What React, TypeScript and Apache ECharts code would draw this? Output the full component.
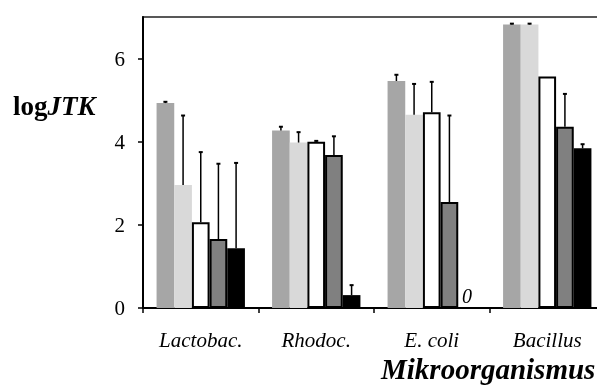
import React, { useEffect, useRef } from "react";
import * as echarts from "echarts";

const categories = ["Lactobac.", "Rhodoc.", "E. coli", "Bacillus"];
const yTicks = [0, 2, 4, 6];

const s1 = [4.93, 4.27, 5.46, 6.82];
const e1 = [0.03, 0.09, 0.15, 0.02];
const s2 = [2.96, 3.98, 4.65, 6.82];
const e2 = [1.67, 0.25, 0.74, 0.02];
const s3 = [2.06, 4.0, 4.71, 5.57];
const e3 = [1.69, 0.02, 0.73, 0];
const s4 = [1.66, 3.68, 2.55, 4.36];
const e4 = [1.81, 0.45, 2.08, 0.79];
const s5 = [1.44, 0.31, 0, 3.84];
const e5 = [2.05, 0.24, 0, 0.1];

const SERIF = "'Liberation Serif', 'Times New Roman', serif";
const GAP = 0.235;

export default function App() {
  const ref = useRef<HTMLDivElement>(null);
  useEffect(() => {
    if (!ref.current) return;
    const chart = echarts.init(ref.current, null, { renderer: "svg" });
    const values = [s1, s2, s3, s4, s5];
    const errs = [e1, e2, e3, e4, e5];
    const styles = [
      { color: "#a6a6a6" },
      { color: "#d9d9d9" },
      { color: "#ffffff", borderColor: "#000", borderWidth: 2 },
      { color: "#808080", borderColor: "#000", borderWidth: 2 },
      { color: "#000000" },
    ];
    const barSeries = values.map((vals, k) => ({
      type: "bar",
      barGap: "0%",
      barCategoryGap: GAP * 100 + "%",
      itemStyle: styles[k],
      data: vals.map((v) =>
        k === 4 && v === 0
          ? {
              value: v,
              label: {
                show: true,
                position: "top",
                formatter: "0",
                fontFamily: SERIF,
                fontStyle: "italic",
                fontSize: 20,
                color: "#000",
                distance: 2,
              },
            }
          : v
      ),
    }));
    const errSeries = values.map((vals, k) => ({
      type: "custom",
      z: 5,
      renderItem: (params: any, api: any) => {
        const ci = api.value(0);
        const v = api.value(1);
        const e = api.value(2);
        if (!(e > 0)) return null;
        const base = api.coord([ci, v]);
        const top = api.coord([ci, v + e]);
        const bandW = api.size([1, 0])[0];
        const barW = (bandW * (1 - GAP)) / 5;
        const x = base[0] + (k - 2) * barW;
        return {
          type: "group",
          children: [
            {
              type: "line",
              shape: { x1: x, y1: base[1], x2: x, y2: top[1] },
              style: { stroke: "#000", lineWidth: 1.5 },
            },
            {
              type: "line",
              shape: { x1: x - 2, y1: top[1], x2: x + 2, y2: top[1] },
              style: { stroke: "#000", lineWidth: 2 },
            },
          ],
        };
      },
      encode: { x: 0, y: 1 },
      data: vals.map((v, i) => [i, v, errs[k][i]]),
    }));

    chart.setOption({
      animation: false,
      grid: {
        left: 143,
        top: 17,
        right: 0,
        bottom: 80,
        show: true,
        borderColor: "#222",
        borderWidth: 1.5,
      },
      xAxis: {
        type: "category",
        data: categories,
        axisLine: { lineStyle: { color: "#000", width: 2 } },
        axisTick: { show: true, length: 5, lineStyle: { color: "#000", width: 1.5 } },
        axisLabel: {
          fontFamily: SERIF,
          fontStyle: "italic",
          fontSize: 21,
          color: "#000",
          margin: 21,
        },
      },
      yAxis: {
        type: "value",
        min: 0,
        max: 7,
        interval: 2,
        splitLine: { show: false },
        axisLine: { show: true, lineStyle: { color: "#000", width: 2 } },
        axisTick: { show: true, length: 5, lineStyle: { color: "#000", width: 1.5 } },
        axisLabel: {
          fontFamily: SERIF,
          fontSize: 21,
          color: "#000",
          margin: 18,
          showMaxLabel: false,
          formatter: (v: number) => (yTicks.includes(v) ? String(v) : ""),
        },
      },
      graphic: [
        {
          type: "text",
          left: 13,
          top: 92,
          style: {
            text: "{a|log}{b|JTK}",
            rich: {
              a: { fontFamily: SERIF, fontWeight: "bold", fontSize: 27, fill: "#000" },
              b: {
                fontFamily: SERIF,
                fontWeight: "bold",
                fontStyle: "italic",
                fontSize: 27,
                fill: "#000",
              },
            },
          },
        },
        {
          type: "text",
          left: 381,
          top: 354,
          style: {
            text: "Mikroorganismus",
            fontFamily: SERIF,
            fontWeight: "bold",
            fontStyle: "italic",
            fontSize: 29,
            fill: "#000",
          },
        },
      ],
      series: [...barSeries, ...errSeries],
    });
    return () => chart.dispose();
  }, []);
  return (
    <div
      ref={ref}
      style={{ position: "fixed", left: 0, top: 0, width: 605, height: 388 }}
    />
  );
}
